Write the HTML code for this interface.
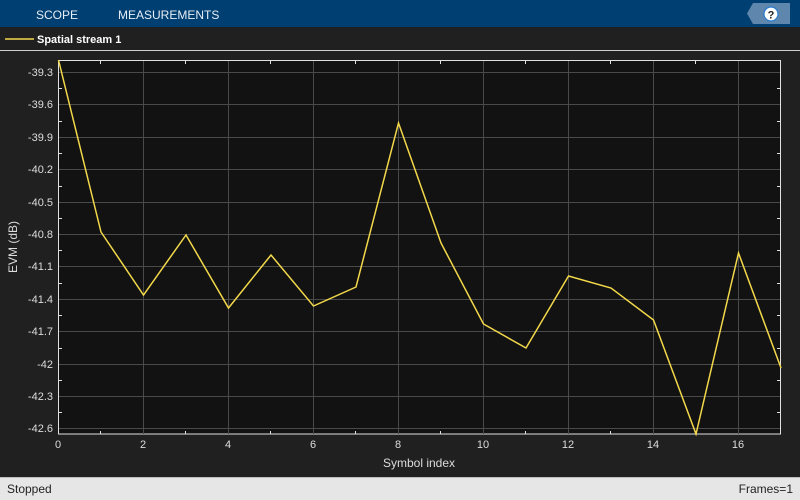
<!DOCTYPE html>
<html><head><style>
html,body{margin:0;width:800px;height:500px;background:#1f1f1f;overflow:hidden;font-family:"Liberation Sans",sans-serif;}
svg{display:block}
</style></head><body>
<svg width="800" height="500" xmlns="http://www.w3.org/2000/svg" font-family="Liberation Sans, sans-serif">
<rect x="0" y="0" width="800" height="500" fill="#202020"/>
<rect x="0" y="0" width="800" height="27" fill="#003f72"/>
<text x="36" y="19" fill="#e6eef6" font-size="12">SCOPE</text>
<text x="118" y="19" fill="#e6eef6" font-size="12">MEASUREMENTS</text>
<polygon points="753,3 790,3 790,24 753,24 747,13.5" fill="#5f87ad"/>
<circle cx="771" cy="14" r="7" fill="#fff" stroke="#2a7ad0" stroke-width="1.2"/>
<text x="771" y="18.5" fill="#222" font-size="11" font-weight="bold" text-anchor="middle">?</text>
<line x1="5" y1="39" x2="34" y2="39" stroke="#f2d84a" stroke-width="1.5"/>
<text x="37" y="43" fill="#fff" font-size="11" font-weight="bold">Spatial stream 1</text>
<line x1="0" y1="50.5" x2="800" y2="50.5" stroke="#cfcfcf" stroke-width="1"/>
<rect x="58.5" y="60.5" width="722" height="373.5" fill="#121212" stroke="#e0e0e0" stroke-width="1"/>
<g stroke="#4a4a4a" stroke-width="1">
<line x1="143.5" y1="61" x2="143.5" y2="434"/><line x1="228.5" y1="61" x2="228.5" y2="434"/>
<line x1="313.5" y1="61" x2="313.5" y2="434"/><line x1="398.5" y1="61" x2="398.5" y2="434"/>
<line x1="483.5" y1="61" x2="483.5" y2="434"/><line x1="568.5" y1="61" x2="568.5" y2="434"/>
<line x1="653.5" y1="61" x2="653.5" y2="434"/><line x1="738.5" y1="61" x2="738.5" y2="434"/>
<line x1="59" y1="72.5" x2="780" y2="72.5"/><line x1="59" y1="104.5" x2="780" y2="104.5"/>
<line x1="59" y1="137.5" x2="780" y2="137.5"/><line x1="59" y1="169.5" x2="780" y2="169.5"/>
<line x1="59" y1="202.5" x2="780" y2="202.5"/><line x1="59" y1="234.5" x2="780" y2="234.5"/>
<line x1="59" y1="266.5" x2="780" y2="266.5"/><line x1="59" y1="299.5" x2="780" y2="299.5"/>
<line x1="59" y1="331.5" x2="780" y2="331.5"/><line x1="59" y1="364.5" x2="780" y2="364.5"/>
<line x1="59" y1="396.5" x2="780" y2="396.5"/><line x1="59" y1="428.5" x2="780" y2="428.5"/>
</g>
<g stroke="#e0e0e0" stroke-width="1">
<line x1="100.5" y1="61" x2="100.5" y2="64"/><line x1="185.5" y1="61" x2="185.5" y2="64"/>
<line x1="270.5" y1="61" x2="270.5" y2="64"/><line x1="355.5" y1="61" x2="355.5" y2="64"/>
<line x1="440.5" y1="61" x2="440.5" y2="64"/><line x1="525.5" y1="61" x2="525.5" y2="64"/>
<line x1="610.5" y1="61" x2="610.5" y2="64"/><line x1="695.5" y1="61" x2="695.5" y2="64"/>
<line x1="100.5" y1="431" x2="100.5" y2="434"/><line x1="185.5" y1="431" x2="185.5" y2="434"/>
<line x1="270.5" y1="431" x2="270.5" y2="434"/><line x1="355.5" y1="431" x2="355.5" y2="434"/>
<line x1="440.5" y1="431" x2="440.5" y2="434"/><line x1="525.5" y1="431" x2="525.5" y2="434"/>
<line x1="610.5" y1="431" x2="610.5" y2="434"/><line x1="695.5" y1="431" x2="695.5" y2="434"/>
<line x1="59" y1="88.5" x2="62" y2="88.5"/><line x1="59" y1="121.5" x2="62" y2="121.5"/>
<line x1="59" y1="153.5" x2="62" y2="153.5"/><line x1="59" y1="186.5" x2="62" y2="186.5"/>
<line x1="59" y1="218.5" x2="62" y2="218.5"/><line x1="59" y1="250.5" x2="62" y2="250.5"/>
<line x1="59" y1="283.5" x2="62" y2="283.5"/><line x1="59" y1="315.5" x2="62" y2="315.5"/>
<line x1="59" y1="348.5" x2="62" y2="348.5"/><line x1="59" y1="380.5" x2="62" y2="380.5"/>
<line x1="59" y1="412.5" x2="62" y2="412.5"/>
<line x1="777" y1="88.5" x2="780" y2="88.5"/><line x1="777" y1="121.5" x2="780" y2="121.5"/>
<line x1="777" y1="153.5" x2="780" y2="153.5"/><line x1="777" y1="186.5" x2="780" y2="186.5"/>
<line x1="777" y1="218.5" x2="780" y2="218.5"/><line x1="777" y1="250.5" x2="780" y2="250.5"/>
<line x1="777" y1="283.5" x2="780" y2="283.5"/><line x1="777" y1="315.5" x2="780" y2="315.5"/>
<line x1="777" y1="348.5" x2="780" y2="348.5"/><line x1="777" y1="380.5" x2="780" y2="380.5"/>
<line x1="777" y1="412.5" x2="780" y2="412.5"/>
</g>
<g fill="#dcdcdc" font-size="11" text-anchor="end">
<text x="53" y="76">-39.3</text><text x="53" y="108">-39.6</text><text x="53" y="141">-39.9</text>
<text x="53" y="173">-40.2</text><text x="53" y="206">-40.5</text><text x="53" y="238">-40.8</text>
<text x="53" y="270">-41.1</text><text x="53" y="303">-41.4</text><text x="53" y="335">-41.7</text>
<text x="53" y="368">-42</text><text x="53" y="400">-42.3</text><text x="53" y="432">-42.6</text>
</g>
<g fill="#dcdcdc" font-size="11" text-anchor="middle">
<text x="58" y="448">0</text><text x="143" y="448">2</text><text x="228" y="448">4</text>
<text x="313" y="448">6</text><text x="398" y="448">8</text><text x="483" y="448">10</text>
<text x="568" y="448">12</text><text x="653" y="448">14</text><text x="738" y="448">16</text>
</g>
<text x="419" y="467" fill="#dcdcdc" font-size="12" text-anchor="middle">Symbol index</text>
<text x="17" y="247" fill="#dcdcdc" font-size="12" text-anchor="middle" transform="rotate(-90 17 247)">EVM (dB)</text>
<polyline fill="none" stroke="#f2d84a" stroke-width="1.5" points="58.5,60 101,232 143.5,295 186,235 228.5,308 271,255 313.5,306 356,287 398.5,123 441,243 483.5,324 526,348 568.5,276 611,288 653.5,320 696,434 738.5,253 781,368"/>
<rect x="0" y="477" width="800" height="23" fill="#e6e6e6"/>
<line x1="0" y1="477.5" x2="800" y2="477.5" stroke="#bdbdbd"/>
<text x="7" y="493" fill="#222" font-size="12">Stopped</text>
<text x="793" y="493" fill="#222" font-size="12" text-anchor="end">Frames=1</text>
</svg>
</body></html>
